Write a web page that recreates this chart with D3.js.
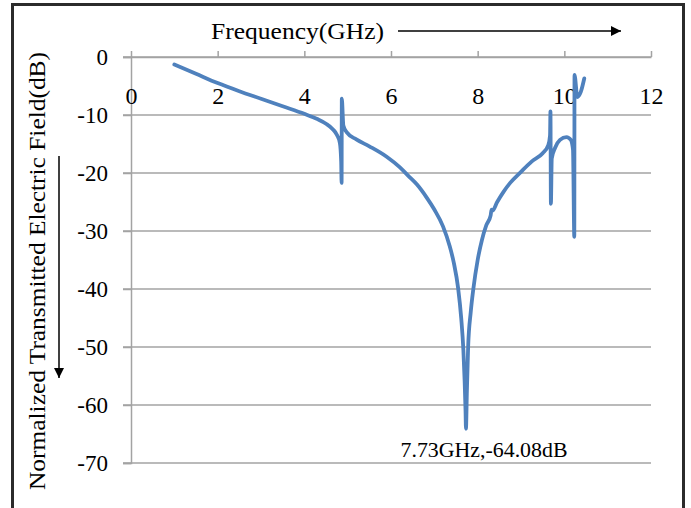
<!DOCTYPE html>
<html>
<head>
<meta charset="utf-8">
<script src="https://cdn.jsdelivr.net/npm/d3@7"></script>
<style>
  body { margin: 0; background: #fff; }
  svg { display: block; font-family: "Liberation Serif", "DejaVu Serif", serif; }
</style>
</head>
<body>
<script>
// transmission curve (GHz, dB)
const freq = [1.0, 1.5, 2.0, 2.5, 3.0, 3.5, 4.0, 4.3, 4.5, 4.65, 4.75, 4.82, 4.85, 4.86, 4.865, 4.9, 4.98,
  5.2, 5.5, 5.9, 6.2, 6.4, 6.6, 6.82, 7.0, 7.2, 7.35, 7.45, 7.55, 7.62, 7.67, 7.70, 7.72, 7.73,
  7.75, 7.78, 7.84, 7.9, 8.0, 8.1, 8.2, 8.3, 8.32, 8.34, 8.45, 8.6, 8.75, 9.0, 9.25, 9.5, 9.63,
  9.67, 9.68, 9.69, 9.71, 9.79, 9.9, 10.05, 10.15, 10.2, 10.23, 10.235, 10.3, 10.38, 10.46];
const level = [-1.3, -2.9, -4.5, -5.9, -7.2, -8.5, -9.8, -10.7, -11.5, -12.4, -13.4, -14.8, -18, -21.7, -7.2, -11.8, -13.0,
  -14.2, -15.4, -17.2, -19, -20.5, -22, -24.2, -26.3, -29.2, -32.5, -35.5, -39.9, -45, -50.5, -56, -61, -64.1,
  -58, -50, -44, -40, -35, -31.5, -29, -27.3, -26.3, -26.5, -25.0, -23.2, -21.7, -19.8, -18.0, -16.6, -15.2,
  -13.5, -9.4, -25.3, -17.5, -15.6, -14.3, -13.8, -14.3, -16, -31, -3.1, -6.9, -6.0, -3.7];

const xTicks = [0, 2, 4, 6, 8, 10, 12];
const yTicks = [0, -10, -20, -30, -40, -50, -60, -70];
const xTitle = 'Frequency(GHz)';
const yTitle = 'Normalized Transmitted Electric Field(dB)';
const note = '7.73GHz,-64.08dB';

const W = 691, H = 508;
const svg = d3.select('body').append('svg')
    .attr('width', W)
    .attr('height', H);

// frame
svg.append('rect')
    .attr('x', 12.5).attr('y', 4.5)
    .attr('width', 671).attr('height', 530)
    .attr('fill', 'none')
    .attr('stroke', '#2b2b2b')
    .attr('stroke-width', 3);

const x = d3.scaleLinear().domain([0, 12]).range([131, 651]);
const y = d3.scaleLinear().domain([0, -70]).range([57, 463]);

const grey = '#a3a3a3';

// horizontal grid lines
svg.append('g').selectAll('line')
  .data(yTicks)
  .enter()
  .append('line')
    .attr('x1', 123).attr('x2', x(12))
    .attr('y1', d => y(d)).attr('y2', d => y(d))
    .attr('stroke', grey)
    .attr('stroke-width', 1.5);

// y axis, plain hyphen for the minus sign like the original
const yAxis = svg.append('g')
    .attr('transform', `translate(${x(0)},0)`)
    .call(d3.axisLeft(y).tickValues(yTicks).tickSize(8).tickPadding(15).tickFormat(d => String(d)));
yAxis.select('.domain').attr('stroke', grey).attr('stroke-width', 1.5);
yAxis.selectAll('.tick line').attr('stroke', grey).attr('stroke-width', 1.5);
yAxis.selectAll('.tick text')
    .attr('font-size', 23)
    .attr('font-family', 'Liberation Serif')
    .attr('fill', '#000');

// x axis sits on the 0 dB line, ticks point up, labels below
const xAxis = svg.append('g')
    .attr('transform', `translate(0,${y(0)})`)
    .call(d3.axisBottom(x).tickValues(xTicks).tickSizeInner(-6).tickSizeOuter(0).tickPadding(30));
xAxis.select('.domain').attr('stroke', grey).attr('stroke-width', 1.5);
xAxis.selectAll('.tick line').attr('stroke', grey).attr('stroke-width', 1.5);
xAxis.selectAll('.tick text')
    .attr('font-size', 24)
    .attr('font-family', 'Liberation Serif')
    .attr('fill', '#000');

// curve
const pts = freq.map((f, i) => [f, level[i]]);
const line = d3.line()
    .x(d => x(d[0]))
    .y(d => y(d[1]))
    .curve(d3.curveMonotoneX);

svg.append('path')
    .datum(pts)
    .attr('d', line)
    .attr('fill', 'none')
    .attr('stroke', '#4f81bd')
    .attr('stroke-width', 3.8)
    .attr('stroke-linejoin', 'round')
    .attr('stroke-linecap', 'round');

// annotation at the minimum
svg.append('text')
    .attr('x', 484).attr('y', 457)
    .attr('text-anchor', 'middle')
    .attr('font-size', 21)
    .attr('textLength', 167)
    .attr('lengthAdjust', 'spacingAndGlyphs')
    .text(note);

// titles with arrows
const defs = svg.append('defs');
defs.append('marker')
    .attr('id', 'head')
    .attr('viewBox', '0 0 10 10')
    .attr('refX', 10).attr('refY', 5)
    .attr('markerWidth', 10).attr('markerHeight', 10)
    .attr('markerUnits', 'userSpaceOnUse')
    .attr('orient', 'auto')
  .append('path')
    .attr('d', 'M0,0 L10,5 L0,10 Z')
    .attr('fill', '#000');

svg.append('text')
    .attr('x', 211).attr('y', 39)
    .attr('font-size', 24)
    .attr('textLength', 173)
    .attr('lengthAdjust', 'spacingAndGlyphs')
    .text(xTitle);

svg.append('line')
    .attr('x1', 398).attr('y1', 31)
    .attr('x2', 621).attr('y2', 31)
    .attr('stroke', '#000').attr('stroke-width', 1.5)
    .attr('marker-end', 'url(#head)');

svg.append('text')
    .attr('transform', 'translate(45,271) rotate(-90)')
    .attr('text-anchor', 'middle')
    .attr('font-size', 24)
    .attr('textLength', 438)
    .attr('lengthAdjust', 'spacingAndGlyphs')
    .text(yTitle);

svg.append('line')
    .attr('x1', 59).attr('y1', 156)
    .attr('x2', 59).attr('y2', 378)
    .attr('stroke', '#000').attr('stroke-width', 1.5)
    .attr('marker-end', 'url(#head)');
</script>
</body>
</html>
